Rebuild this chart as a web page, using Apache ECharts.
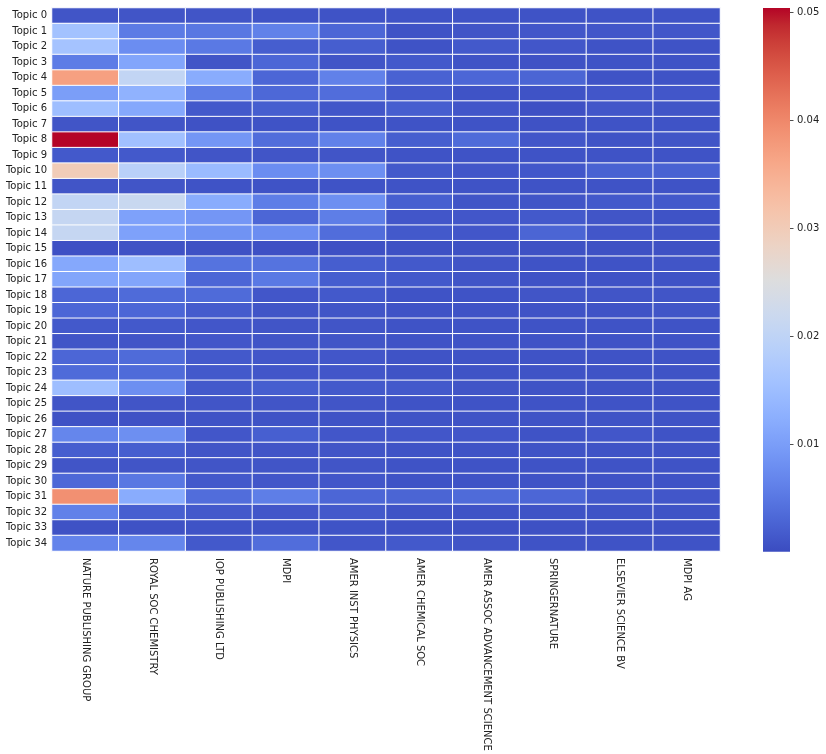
<!DOCTYPE html>
<html>
<head>
<meta charset="utf-8">
<script src="https://cdn.jsdelivr.net/npm/echarts@6/dist/echarts.min.js"></script>
<style>
html,body{margin:0;padding:0;background:#fff;}
#chart{width:826px;height:754px;}
</style>
</head>
<body>
<div id="chart"></div>
<script>
const publishers = ["NATURE PUBLISHING GROUP","ROYAL SOC CHEMISTRY","IOP PUBLISHING LTD","MDPI","AMER INST PHYSICS","AMER CHEMICAL SOC","AMER ASSOC ADVANCEMENT SCIENCE","SPRINGERNATURE","ELSEVIER SCIENCE BV","MDPI AG"];
const topics = [];
for (let i = 0; i < 35; i++) topics.push("Topic " + i);

const nature   = [0.0010,0.0157,0.0160,0.0056,0.0370,0.0100,0.0150,0.0010,0.0504,0.0015,0.0300,0.0010,0.0205,0.0210,0.0210,0.0005,0.0115,0.0110,0.0030,0.0030,0.0015,0.0010,0.0030,0.0035,0.0150,0.0010,0.0007,0.0068,0.0020,0.0010,0.0032,0.0390,0.0062,0.0007,0.0065];
const royal    = [0.0010,0.0055,0.0078,0.0110,0.0205,0.0130,0.0115,0.0010,0.0155,0.0015,0.0190,0.0010,0.0215,0.0105,0.0105,0.0007,0.0150,0.0110,0.0035,0.0030,0.0015,0.0010,0.0035,0.0035,0.0080,0.0010,0.0007,0.0080,0.0020,0.0010,0.0050,0.0120,0.0022,0.0007,0.0068];
const iop      = [0.0010,0.0050,0.0052,0.0010,0.0120,0.0058,0.0015,0.0007,0.0090,0.0010,0.0145,0.0008,0.0120,0.0090,0.0085,0.0006,0.0045,0.0030,0.0035,0.0017,0.0012,0.0012,0.0015,0.0015,0.0015,0.0010,0.0008,0.0012,0.0010,0.0010,0.0015,0.0038,0.0015,0.0008,0.0015];
const mdpi     = [0.0008,0.0062,0.0020,0.0030,0.0030,0.0032,0.0020,0.0008,0.0038,0.0010,0.0078,0.0008,0.0058,0.0030,0.0078,0.0005,0.0045,0.0052,0.0012,0.0010,0.0010,0.0010,0.0012,0.0012,0.0020,0.0010,0.0008,0.0022,0.0010,0.0010,0.0012,0.0058,0.0012,0.0008,0.0038];
const aip      = [0.0008,0.0030,0.0020,0.0010,0.0062,0.0038,0.0012,0.0008,0.0062,0.0010,0.0080,0.0008,0.0080,0.0058,0.0038,0.0005,0.0020,0.0020,0.0015,0.0010,0.0010,0.0010,0.0012,0.0012,0.0015,0.0010,0.0008,0.0012,0.0010,0.0010,0.0012,0.0030,0.0015,0.0008,0.0012];
const acs      = [0.0008,0.0008,0.0008,0.0015,0.0025,0.0015,0.0020,0.0008,0.0020,0.0008,0.0015,0.0008,0.0022,0.0012,0.0015,0.0006,0.0015,0.0015,0.0008,0.0008,0.0008,0.0008,0.0008,0.0008,0.0015,0.0008,0.0008,0.0012,0.0008,0.0008,0.0008,0.0028,0.0008,0.0006,0.0015];
const aaas     = [0.0008,0.0010,0.0015,0.0008,0.0030,0.0008,0.0012,0.0008,0.0035,0.0008,0.0012,0.0008,0.0010,0.0012,0.0012,0.0006,0.0010,0.0010,0.0008,0.0008,0.0008,0.0008,0.0008,0.0008,0.0010,0.0008,0.0008,0.0012,0.0008,0.0008,0.0008,0.0035,0.0008,0.0006,0.0010];
const springer = [0.0008,0.0012,0.0012,0.0007,0.0028,0.0008,0.0005,0.0007,0.0012,0.0008,0.0013,0.0008,0.0010,0.0015,0.0028,0.0006,0.0008,0.0008,0.0010,0.0008,0.0008,0.0008,0.0008,0.0008,0.0008,0.0008,0.0008,0.0008,0.0008,0.0008,0.0008,0.0030,0.0008,0.0006,0.0008];
const elsevier = [0.0008,0.0012,0.0008,0.0008,0.0008,0.0012,0.0012,0.0008,0.0008,0.0008,0.0025,0.0008,0.0015,0.0010,0.0012,0.0006,0.0008,0.0008,0.0010,0.0008,0.0008,0.0008,0.0008,0.0008,0.0008,0.0008,0.0008,0.0012,0.0008,0.0008,0.0008,0.0015,0.0008,0.0006,0.0008];
const mdpiag   = [0.0008,0.0012,0.0008,0.0008,0.0008,0.0012,0.0010,0.0008,0.0010,0.0008,0.0025,0.0008,0.0015,0.0008,0.0010,0.0006,0.0010,0.0008,0.0010,0.0010,0.0008,0.0008,0.0008,0.0008,0.0008,0.0008,0.0008,0.0008,0.0008,0.0008,0.0008,0.0012,0.0008,0.0006,0.0008];

const colorbarTicks = [0.01, 0.02, 0.03, 0.04, 0.05];
const vMin = 0.00003, vMax = 0.0504;

const coolwarm = ["#3b4cc0","#445acc","#4d68d7","#5775e1","#6282ea","#6c8ef1","#779af7","#82a5fb","#8db0fe","#98b9ff","#a3c2ff","#aec9fd","#b8d0f9","#c2d5f4","#ccd9ee","#d5dbe6","#dddddd","#e5d8d1","#ecd3c5","#f1ccb8","#f5c4ac","#f7bba0","#f7b194","#f7a687","#f49a7b","#f18d6f","#ec7f63","#e57058","#de604d","#d55042","#cb3e38","#c0282f","#b40426"];

const columns = [nature, royal, iop, mdpi, aip, acs, aaas, springer, elsevier, mdpiag];
const data = [];
columns.forEach((col, xi) => col.forEach((v, yi) => data.push([xi, yi, v])));

const gradient = new echarts.graphic.LinearGradient(0, 1, 0, 0,
  coolwarm.map((c, i) => ({ offset: i / (coolwarm.length - 1), color: c })));

const chart = echarts.init(document.getElementById('chart'));
chart.setOption({
  animation: false,
  backgroundColor: '#ffffff',
  textStyle: { fontFamily: 'DejaVu Sans' },
  grid: [
    { left: 52, right: 106, top: 8, bottom: 203 },
    { left: 763, width: 27, top: 8, bottom: 202.3, show: true, backgroundColor: gradient, borderWidth: 0 }
  ],
  xAxis: [
    {
      type: 'category', data: publishers, gridIndex: 0,
      axisLine: { show: false }, axisTick: { show: false }, splitLine: { show: false },
      axisLabel: { rotate: -90, margin: 7, fontSize: 10, color: '#222', interval: 0, fontFamily: 'DejaVu Sans' }
    },
    {
      type: 'category', data: [''], gridIndex: 1, show: false
    }
  ],
  yAxis: [
    {
      type: 'category', data: topics, inverse: true, gridIndex: 0,
      axisLine: { show: false }, axisTick: { show: false }, splitLine: { show: false },
      axisLabel: { margin: 5, fontSize: 10, color: '#222', interval: 0, fontFamily: 'DejaVu Sans' }
    },
    {
      type: 'value', gridIndex: 1, position: 'right', min: vMin, max: vMax,
      axisLine: { show: false }, splitLine: { show: false },
      axisTick: { show: true, length: 3.5, customValues: colorbarTicks, lineStyle: { color: '#222', width: 0.8 } },
      axisLabel: { show: true, margin: 7, fontSize: 10, color: '#222', customValues: colorbarTicks, fontFamily: 'DejaVu Sans',
        formatter: v => v.toFixed(2) }
    }
  ],
  visualMap: {
    type: 'continuous', min: vMin, max: vMax, calculable: false, seriesIndex: 0, show: false,
    inRange: { color: coolwarm }
  },
  series: [
    {
      type: 'heatmap', xAxisIndex: 0, yAxisIndex: 0, data: data,
      itemStyle: { borderColor: '#ffffff', borderWidth: 1 },
      emphasis: { disabled: true },
      progressive: 0
    }
  ]
});
</script>
</body>
</html>
